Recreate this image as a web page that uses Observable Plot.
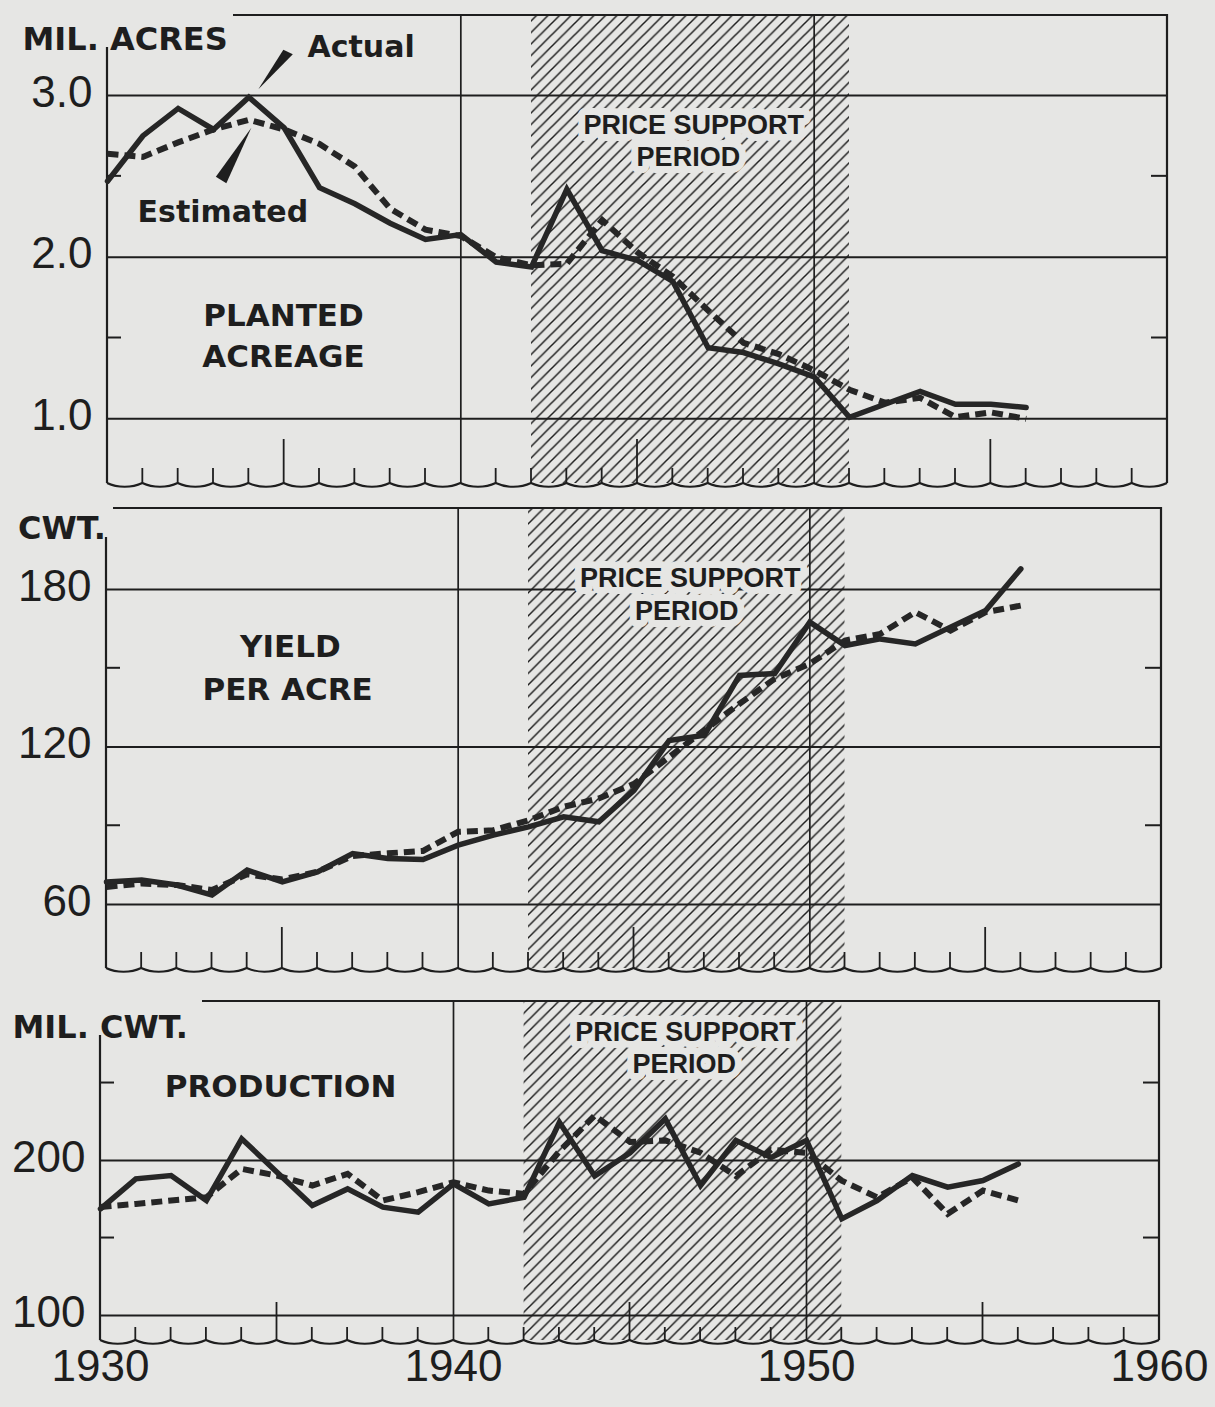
<!DOCTYPE html>
<html>
<head>
<meta charset="utf-8">
<script src="https://cdn.jsdelivr.net/npm/d3@7"></script>
<script src="https://cdn.jsdelivr.net/npm/@observablehq/plot@0.6"></script>
<style>
html, body { margin: 0; padding: 0; background: #e6e6e4; }
#chart { width: 1215px; height: 1407px; background: #e6e6e4; }
#chart svg { display: block; }
</style>
</head>
<body>
<div id="chart"></div>
<script>
// ---------------- data ----------------
const years = [1930, 1931, 1932, 1933, 1934, 1935, 1936, 1937, 1938, 1939,
               1940, 1941, 1942, 1943, 1944, 1945, 1946, 1947, 1948, 1949,
               1950, 1951, 1952, 1953, 1954, 1955, 1956];

// Planted acreage, million acres
const acreageActual = [2.47, 2.75, 2.92, 2.79, 2.99, 2.80, 2.43, 2.33, 2.21, 2.11,
                       2.14, 1.97, 1.94, 2.42, 2.04, 1.98, 1.85, 1.44, 1.41, 1.34,
                       1.26, 1.01, 1.09, 1.17, 1.09, 1.09, 1.07];
const acreageEstimated = [2.64, 2.62, 2.71, 2.79, 2.85, 2.79, 2.70, 2.56, 2.30, 2.17,
                          2.13, 2.00, 1.95, 1.96, 2.23, 2.03, 1.88, 1.67, 1.47, 1.40,
                          1.30, 1.18, 1.10, 1.13, 1.01, 1.04, 1.00];

// Yield per acre, cwt.
const yieldActual = [68.6, 69.3, 67.4, 63.6, 73.1, 68.6, 72.4, 79.4, 77.5, 77.1,
                     82.6, 86.4, 89.6, 93.4, 91.5, 103.5, 122.5, 124.5, 147.3, 148.0,
                     167.6, 158.7, 161.2, 159.3, 165.7, 172.0, 187.9];
const yieldEstimated = [66.7, 68.0, 67.4, 65.5, 71.5, 69.5, 72.5, 78.5, 79.5, 80.4,
                        87.7, 88.3, 92.1, 97.2, 100.4, 106.0, 116.2, 126.4, 136.5, 146.0,
                        151.7, 160.6, 163.1, 171.4, 164.4, 171.4, 173.9];

// Production, million cwt.
const productionActual = [168.8, 188.2, 190.3, 174.2, 214.0, 192.5, 171.0, 181.7, 169.9, 166.7,
                          185.0, 172.0, 176.3, 224.7, 190.0, 205.0, 226.9, 183.9, 213.0, 202.0,
                          212.9, 162.4, 174.2, 190.3, 182.8, 187.1, 197.8];
const productionEstimated = [170.0, 172.0, 174.2, 176.3, 194.6, 190.3, 183.9, 191.4, 174.2, 179.6,
                             186.0, 180.6, 178.5, 206.0, 229.0, 212.0, 213.0, 205.0, 190.0, 207.0,
                             205.0, 187.0, 176.3, 189.0, 165.6, 180.6, 174.2];

const acreGridValues = [1.0, 2.0, 3.0];
const acreGridLabels = ["1.0", "2.0", "3.0"];
const acreMinorTicks = [1.5, 2.5];

const yieldGridValues = [60, 120, 180];
const yieldGridLabels = ["60", "120", "180"];
const yieldMinorTicks = [90, 150];

const prodGridValues = [100, 200];
const prodGridLabels = ["100", "200"];
const prodMinorTicks = [150, 250];

const decadeLines = [1940, 1950];
const axisYearLabels = [1930, 1940, 1950, 1960];
const supportPeriod = {start: 1942, end: 1951};
const annotatedYear = 1934;

// ---------------- style ----------------
const ink = "#1e1e1e";
const lineInk = "#262626";
const paper = "#e6e6e4";
const numFont = "Liberation Sans";
const boldFont = "DejaVu Sans";

function hatchDefs(id) {
  return () => {
    const s = 11.5;
    const g = d3.create("svg:g");
    const p = g.append("defs").append("pattern")
      .attr("id", `hatch-${id}`)
      .attr("patternUnits", "userSpaceOnUse")
      .attr("width", s).attr("height", s);
    p.append("path")
      .attr("d", `M${-s/4},${s/4}L${s/4},${-s/4}M0,${s}L${s},0M${s*3/4},${s*5/4}L${s*5/4},${s*3/4}`)
      .attr("stroke", ink).attr("stroke-width", 1.5).attr("fill", "none");
    return g.node();
  };
}

function frame(cfg) {
  return (index, scales, values, dims) => {
    const {width, height, marginTop, marginRight, marginBottom, marginLeft} = dims;
    const L = marginLeft, R = width - marginRight, T = marginTop, B = height - marginBottom;
    const g = d3.create("svg:g").attr("fill", "none").attr("stroke", ink);
    g.append("path").attr("stroke-width", 2.2).attr("d", `M${L + cfg.topStart},${T}H${R}V${B}`);
    g.append("path").attr("stroke-width", 2.2).attr("d", `M${L},${T + cfg.leftStart}V${B}`);
    // wavy bottom edge
    let d = `M${L},${B}`;
    for (let yr = 1930; yr < 1960; yr++) {
      const x0 = scales.x(yr), x1 = scales.x(yr + 1), w = x1 - x0;
      d += `C${x0 + w * 0.3},${B + 5} ${x0 + w * 0.7},${B + 5} ${x1},${B}`;
    }
    g.append("path").attr("stroke-width", 2).attr("d", d);
    // year ticks
    for (let yr = 1931; yr < 1960; yr++) {
      if (yr % 10 === 0) continue;
      const len = yr % 5 === 0 ? cfg.longTick : cfg.shortTick;
      const x = scales.x(yr);
      g.append("line").attr("x1", x).attr("x2", x).attr("y1", B + 1).attr("y2", B - len).attr("stroke-width", 1.8);
    }
    // minor value ticks on both sides
    for (const v of cfg.minor) {
      const y = scales.y(v);
      g.append("line").attr("x1", L).attr("x2", L + 14).attr("y1", y).attr("y2", y).attr("stroke-width", 2);
      g.append("line").attr("x1", R - 16).attr("x2", R).attr("y1", y).attr("y2", y).attr("stroke-width", 2);
    }
    return g.node();
  };
}

function wedges(actual, estimated) {
  return (index, scales) => {
    const i = years.indexOf(annotatedYear);
    const ax = scales.x(annotatedYear), ay = scales.y(actual[i]);
    const ey = scales.y(estimated[i]);
    const g = d3.create("svg:g").attr("fill", ink);
    g.append("path").attr("d", `M${ax + 10},${ay - 7.5}L${ax + 35},${ay - 47}L${ax + 44.5},${ay - 42.5}Z`);
    g.append("path").attr("d", `M${ax + 3},${ey + 8.5}L${ax - 32.5},${ey + 57.5}L${ax - 22},${ey + 64}Z`);
    return g.node();
  };
}

function panel(cfg) {
  const data = years.map((year, i) => ({year, actual: cfg.actual[i], estimated: cfg.estimated[i]}));
  const gridRows = cfg.gridValues.map((v, i) => ({v, label: cfg.gridLabels[i]}));
  const marks = [
    hatchDefs(cfg.id),
    Plot.rect([supportPeriod], {x1: "start", x2: "end", fill: `url(#hatch-${cfg.id})`}),
    Plot.ruleY(cfg.gridValues, {stroke: ink, strokeWidth: 2}),
    Plot.ruleX(decadeLines, {stroke: ink, strokeWidth: 1.7}),
    frame(cfg),
    Plot.text(cfg.priceText, {x: "x", y: "y", text: "text", fontFamily: numFont, fontWeight: "bold",
      fontSize: 27, fill: ink, stroke: paper, strokeWidth: 14, strokeLinejoin: "round"}),
    Plot.text(cfg.names, {x: "x", y: "y", text: "text", textAnchor: "middle", fontFamily: boldFont,
      fontWeight: "bold", fontSize: 31, fill: ink}),
    Plot.text(gridRows, {frameAnchor: "left", y: "v", text: "label", textAnchor: "end", dx: -15, dy: -3,
      fontSize: 44, fontFamily: numFont, fill: ink}),
    Plot.text([cfg.unit], {frameAnchor: "top-left", text: d => d, textAnchor: "start", dx: cfg.unitDx,
      dy: cfg.unitDy, fontFamily: boldFont, fontWeight: "bold", fontSize: 32, fill: ink}),
    ...(cfg.extra || []),
    Plot.line(data, {x: "year", y: "actual", stroke: lineInk, strokeWidth: 5.5, strokeLinejoin: "miter", strokeMiterlimit: 3}),
    Plot.line(data, {x: "year", y: "estimated", stroke: lineInk, strokeWidth: 6, strokeDasharray: "11,6",
      strokeLinecap: "butt", strokeLinejoin: "miter", strokeMiterlimit: 3})
  ];
  return Plot.plot({
    width: 1215,
    height: cfg.height,
    marginTop: cfg.mt, marginBottom: cfg.mb, marginLeft: cfg.ml, marginRight: cfg.mr,
    x: {domain: [1930, 1960], axis: null},
    y: {domain: cfg.domain, axis: null},
    style: {background: "transparent", overflow: "visible", fontFamily: numFont},
    marks
  });
}

const chart = document.getElementById("chart");

chart.append(panel({
  id: "p1", height: 500, mt: 15, mb: 17, ml: 107, mr: 48, domain: [0.6, 3.495],
  actual: acreageActual, estimated: acreageEstimated,
  gridValues: acreGridValues, gridLabels: acreGridLabels, minor: acreMinorTicks,
  unit: "MIL. ACRES", unitDx: -85, unitDy: 11.5, topStart: 126, leftStart: 32,
  shortTick: 15, longTick: 44,
  names: [{text: "PLANTED", x: 1934.98, y: 1.633}, {text: "ACREAGE", x: 1934.98, y: 1.383}],
  priceText: [{text: "PRICE SUPPORT", x: 1946.59, y: 2.814}, {text: "PERIOD", x: 1946.44, y: 2.617}],
  extra: [
    wedges(acreageActual, acreageEstimated),
    Plot.text([{text: "Actual", x: 1935.66, y: 3.299}, {text: "Estimated", x: 1930.85, y: 2.278}],
      {x: "x", y: "y", text: "text", textAnchor: "start", fontFamily: boldFont, fontWeight: "bold", fontSize: 30, fill: ink})
  ]
}));

chart.append(panel({
  id: "p2", height: 485, mt: 8, mb: 17, ml: 106, mr: 54, domain: [35.6, 210.9],
  actual: yieldActual, estimated: yieldEstimated,
  gridValues: yieldGridValues, gridLabels: yieldGridLabels, minor: yieldMinorTicks,
  unit: "CWT.", unitDx: -88.5, unitDy: 8, topStart: 7, leftStart: 29,
  shortTick: 16, longTick: 41,
  names: [{text: "YIELD", x: 1935.23, y: 157.9}, {text: "PER ACRE", x: 1935.15, y: 141.6}],
  priceText: [{text: "PRICE SUPPORT", x: 1946.6, y: 184.2}, {text: "PERIOD", x: 1946.5, y: 171.6}]
}));

chart.append(panel({
  id: "p3", height: 422, mt: 16, mb: 67, ml: 100, mr: 56, domain: [83.9, 302.6],
  actual: productionActual, estimated: productionEstimated,
  gridValues: prodGridValues, gridLabels: prodGridLabels, minor: prodMinorTicks,
  unit: "MIL. CWT.", unitDx: -88, unitDy: 14, topStart: 102, leftStart: 34,
  shortTick: 13, longTick: 38,
  names: [{text: "PRODUCTION", x: 1935.1, y: 247.1}],
  priceText: [{text: "PRICE SUPPORT", x: 1946.57, y: 282.6}, {text: "PERIOD", x: 1946.54, y: 261.9}],
  extra: [
    Plot.text(axisYearLabels, {x: d => d, text: d => String(d), frameAnchor: "bottom", dy: 40,
      fontSize: 44, fontFamily: numFont, fill: ink})
  ]
}));
</script>
</body>
</html>
